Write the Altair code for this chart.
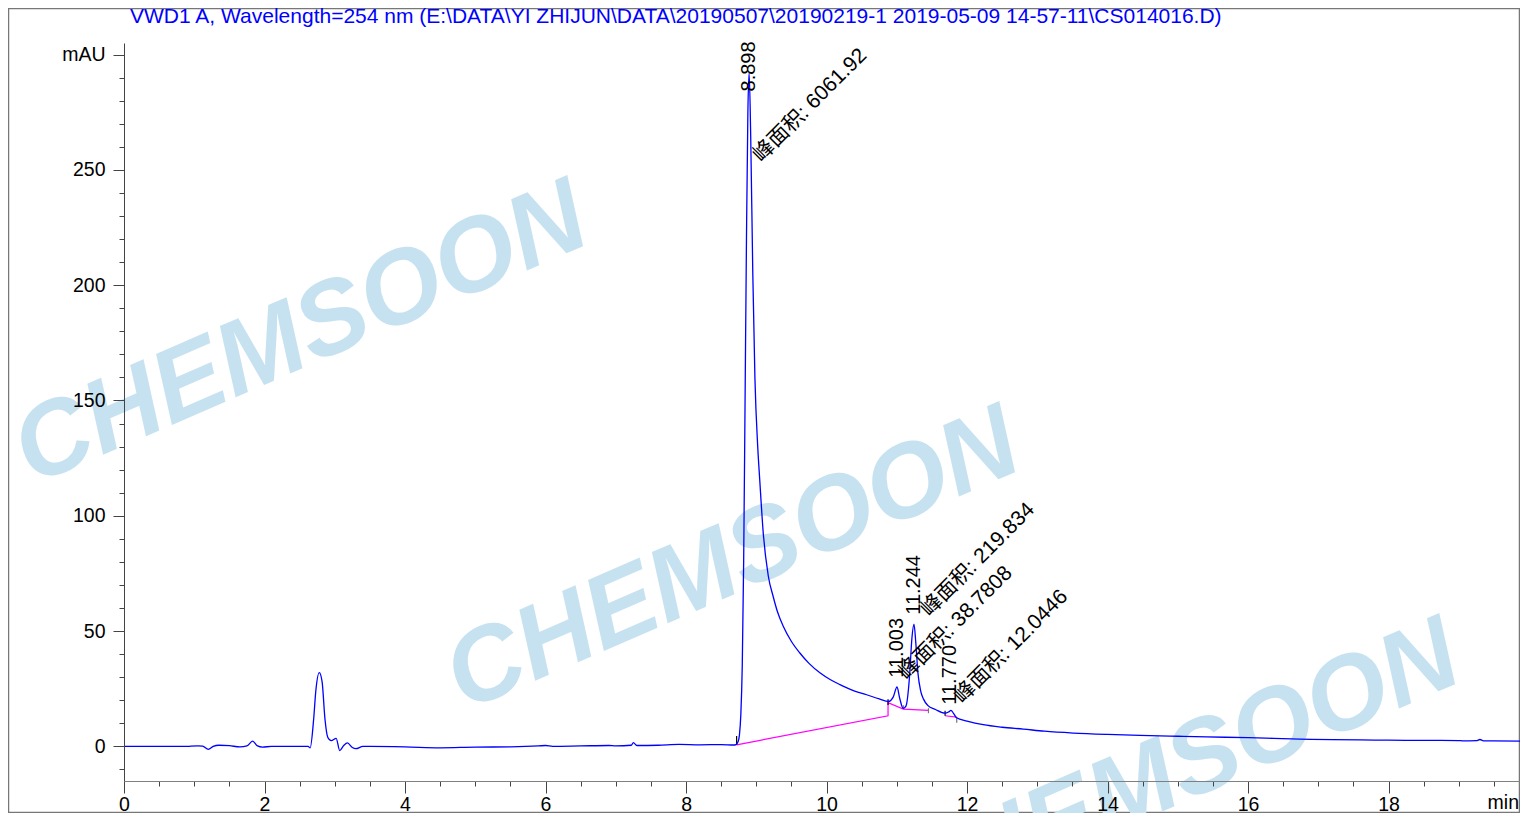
import altair as alt
import pandas as pd

TITLE = "VWD1 A, Wavelength=254 nm (E:\\DATA\\YI ZHIJUN\\DATA\\20190507\\20190219-1 2019-05-09 14-57-11\\CS014016.D)"

# detector trace (min, mAU)
time_min = [0.0, 0.9, 0.95, 1.05, 1.12, 1.2, 1.27, 1.35, 1.5, 1.65, 1.75, 1.83, 1.9, 1.97, 2.1,
            2.62, 2.65, 2.7, 2.73, 2.78, 2.82, 2.86, 2.9, 2.95, 3.02, 3.07, 3.13, 3.18, 3.25, 3.3,
            3.4, 3.5, 4.0, 4.5, 5.0, 5.5, 5.9, 6.0, 6.1, 6.5, 6.9, 7.0, 7.22, 7.25, 7.3, 7.6, 7.9,
            8.2, 8.5, 8.68, 8.71, 8.74, 8.76, 8.78, 8.80, 8.82, 8.84, 8.86, 8.88, 8.898, 8.92,
            8.95, 8.98, 9.02, 9.05, 9.1, 9.17, 9.24, 9.3, 9.385, 9.5, 9.62, 9.75, 9.91, 10.05,
            10.19, 10.4, 10.57, 10.75, 10.88, 10.95, 11.003, 11.04, 11.09, 11.13, 11.18, 11.215,
            11.244, 11.27, 11.3, 11.34, 11.38, 11.44, 11.55, 11.69, 11.74, 11.77, 11.81, 11.85,
            12.0, 12.23, 12.5, 12.8, 13.1, 13.51, 14.0, 14.46, 15.0, 15.41, 16.0, 16.36, 16.74,
            17.2, 17.6, 18.0, 18.5, 19.0, 19.06, 19.25, 19.3, 19.35, 19.87]
signal_mau = [0.0, 0.0, 0.1, 0.2, 0.1, -1.3, 0.0, 0.5, 0.3, -0.2, 0.2, 2.3, 0.2, -0.3, 0.0,
              0.0, -0.6, 12.0, 24.0, 32.0, 28.0, 12.0, 4.0, 2.5, 3.5, -1.8, 0.5, 1.5, -0.5, -1.0,
              0.0, 0.0, -0.2, -0.6, -0.3, -0.2, 0.2, 0.4, 0.0, 0.2, 0.4, 0.2, 0.5, 1.6, 0.4, 0.5, 0.9,
              0.7, 0.8, 0.6, 0.8, 2.0, 5.0, 14.0, 35.0, 80.0, 150.0, 220.0, 275.0, 292.0, 265.0,
              205.0, 160.0, 130.0, 115.0, 92.0, 74.0, 65.0, 58.5, 52.0, 45.5, 40.5, 36.0, 31.8, 29.0,
              26.8, 24.0, 22.4, 20.6, 19.5, 21.5, 25.8, 21.0, 16.5, 17.5, 30.0, 47.0,
              53.0, 45.0, 32.0, 24.0, 20.5, 17.8, 16.0, 14.4, 15.0, 15.6, 14.2, 12.4,
              11.0, 9.4, 8.3, 7.5, 6.6, 5.8, 5.2, 4.8, 4.4, 4.1, 3.8, 3.5, 3.2,
              2.9, 2.8, 2.7, 2.6, 2.55, 2.4, 2.5, 3.0, 2.4, 2.3]

# integration baselines
base_seg = ["a", "a", "a", "a", "a", "b", "b"]
base_time = [8.72, 10.875, 10.875, 11.093, 11.45, 11.687, 11.853]
base_mau = [0.7, 13.3, 19.0, 16.2, 15.6, 13.3, 12.7]

# integration event marks
event_time = [8.72, 10.875, 11.093, 11.45, 11.687, 11.853]
event_lo = [0.7, 18.0, 16.2, 14.4, 13.3, 10.3]
event_hi = [4.5, 20.4, 17.8, 16.6, 15.5, 12.7]
event_kind = ["start", "start", "end", "end", "start", "end"]

# peak annotations
peak_rt = ["8.898", "11.003", "11.244", "11.770"]
peak_x = [8.898, 11.003, 11.244, 11.760]
peak_y = [284.0, 29.8, 57.1, 18.1]
area_text = ["峰面积: 6061.92", "峰面积: 38.7808", "峰面积: 219.834", "峰面积: 12.0446"]
area_x = [9.07, 11.14, 11.46, 11.93]
area_y = [253.0, 28.5, 56.0, 18.3]

W, H = 1396, 738
XMAX = 19.87
YMIN, YMAX = -15.0, 305

trace = pd.DataFrame({"t": time_min, "v": signal_mau})
base = pd.DataFrame({"seg": base_seg, "t": base_time, "v": base_mau})
events = pd.DataFrame({"t": event_time, "lo": event_lo, "hi": event_hi, "kind": event_kind})
peaks = pd.DataFrame({"label": peak_rt, "t": peak_x, "v": peak_y})
areas = pd.DataFrame({"label": area_text, "t": area_x, "v": area_y})

FONT = "Liberation Sans"
CJK = "Liberation Sans, Noto Sans CJK SC"

xvals = [i * 0.5 for i in range(40)]
yvals = list(range(-10, 301, 10))

xscale = alt.Scale(domain=[0, XMAX], nice=False, zero=False)
yscale = alt.Scale(domain=[YMIN, YMAX], nice=False, zero=False)

xaxis = alt.Axis(values=xvals, title=None, grid=False, labelFont=FONT, labelFontSize=19.5,
                 labelColor="#000000", domainColor="#808080", tickColor="#444444",
                 tickSize={"condition": {"test": "datum.value % 2 === 0", "value": 12}, "value": 5},
                 labelExpr="datum.value % 2 === 0 ? format(datum.value, 'd') : ''",
                 labelPadding=2, labelOverlap=False, labelFlush=False, zindex=1)
yaxis = alt.Axis(values=yvals, title=None, grid=False, labelFont=FONT, labelFontSize=19.5,
                 labelColor="#000000", domainColor="#444444", tickColor="#444444",
                 tickSize={"condition": {"test": "datum.value % 50 === 0", "value": 11}, "value": 5},
                 labelExpr="datum.value === 300 ? 'mAU' : (datum.value % 50 === 0 ? format(datum.value, 'd') : '')",
                 labelPadding=8, labelOverlap=False, labelFlush=False, zindex=1)

def X(field):
    return alt.X(field, scale=xscale, axis=xaxis)

def Y(field):
    return alt.Y(field, scale=yscale, axis=yaxis)

frame = alt.Chart(trace).transform_filter("datum.t === 0").mark_rect(
    fillOpacity=0, stroke="#777777", strokeWidth=1.5).encode(
    x=alt.value(-115.5), x2=alt.value(W - 0.5), y=alt.value(-34.5), y2=alt.value(H + 31.5))

# white cover over the plot-area outline at the top edge
cover = alt.Chart(trace).transform_filter("datum.t === 0").mark_rule(
    color="#ffffff", strokeWidth=3).encode(
    x=alt.value(1), x2=alt.value(W - 2), y=alt.value(0))

def watermark(px, py):
    return alt.Chart(trace).transform_filter("datum.t === 0").mark_text(
        text="CHEMSOON", font="Liberation Sans", fontWeight="bold",
        fontStyle="italic", fontSize=104, color="#c6e2f1", angle=336.5, align="center",
        baseline="middle").encode(x=alt.value(px), y=alt.value(py))

wm = watermark(177, 292) + watermark(609, 518) + watermark(1049, 730)

line = alt.Chart(trace).mark_line(color="#0000ff", strokeWidth=1.3, interpolate="monotone").encode(
    x=X("t:Q"), y=Y("v:Q"))

baseline = alt.Chart(base).mark_line(color="#ff00ff", strokeWidth=1.2).encode(
    x=X("t:Q"), y=Y("v:Q"), detail="seg:N")

ev = alt.Chart(events).mark_rule(strokeWidth=1.2).encode(
    x=X("t:Q"), y=Y("lo:Q"), y2="hi:Q",
    color=alt.Color("kind:N", scale=alt.Scale(domain=["start", "end"], range=["#000000", "#777777"]), legend=None))

peak_lbl = alt.Chart(peaks).mark_text(angle=270, align="left", baseline="middle", font=FONT,
                                      fontSize=20, color="#000000").encode(
    x=X("t:Q"), y=Y("v:Q"), text="label:N")

area_lbl = alt.Chart(areas).mark_text(angle=315, align="left", baseline="alphabetic", font=CJK,
                                      fontSize=21, color="#000000").encode(
    x=X("t:Q"), y=Y("v:Q"), text="label:N")

title = alt.Chart(trace).transform_filter("datum.t === 0").mark_text(
    text=TITLE, font=FONT, fontSize=21, color="#0000ff", align="left", baseline="middle").encode(
    x=alt.value(6), y=alt.value(-26))

minlbl = alt.Chart(trace).transform_filter("datum.t === 0").mark_text(
    text="min", font=FONT, fontSize=19.5, color="#000000", align="right", baseline="top").encode(
    x=alt.value(W - 1), y=alt.value(H + 13))

chart = alt.layer(frame, cover, wm, baseline, ev, line, peak_lbl, area_lbl, title, minlbl).properties(
    width=W, height=H,
    background="#ffffff",
    view=alt.ViewBackground(stroke="transparent", strokeWidth=0),
    autosize=alt.AutoSizeParams(type="none"),
    padding={"left": 116, "top": 35, "right": 0, "bottom": 32},
).configure_view(strokeWidth=0, strokeOpacity=0, stroke="#ffffff").configure_axis(labelOverlap=False)

chart.save("out.html", embed_options={"renderer": "svg", "actions": False})
